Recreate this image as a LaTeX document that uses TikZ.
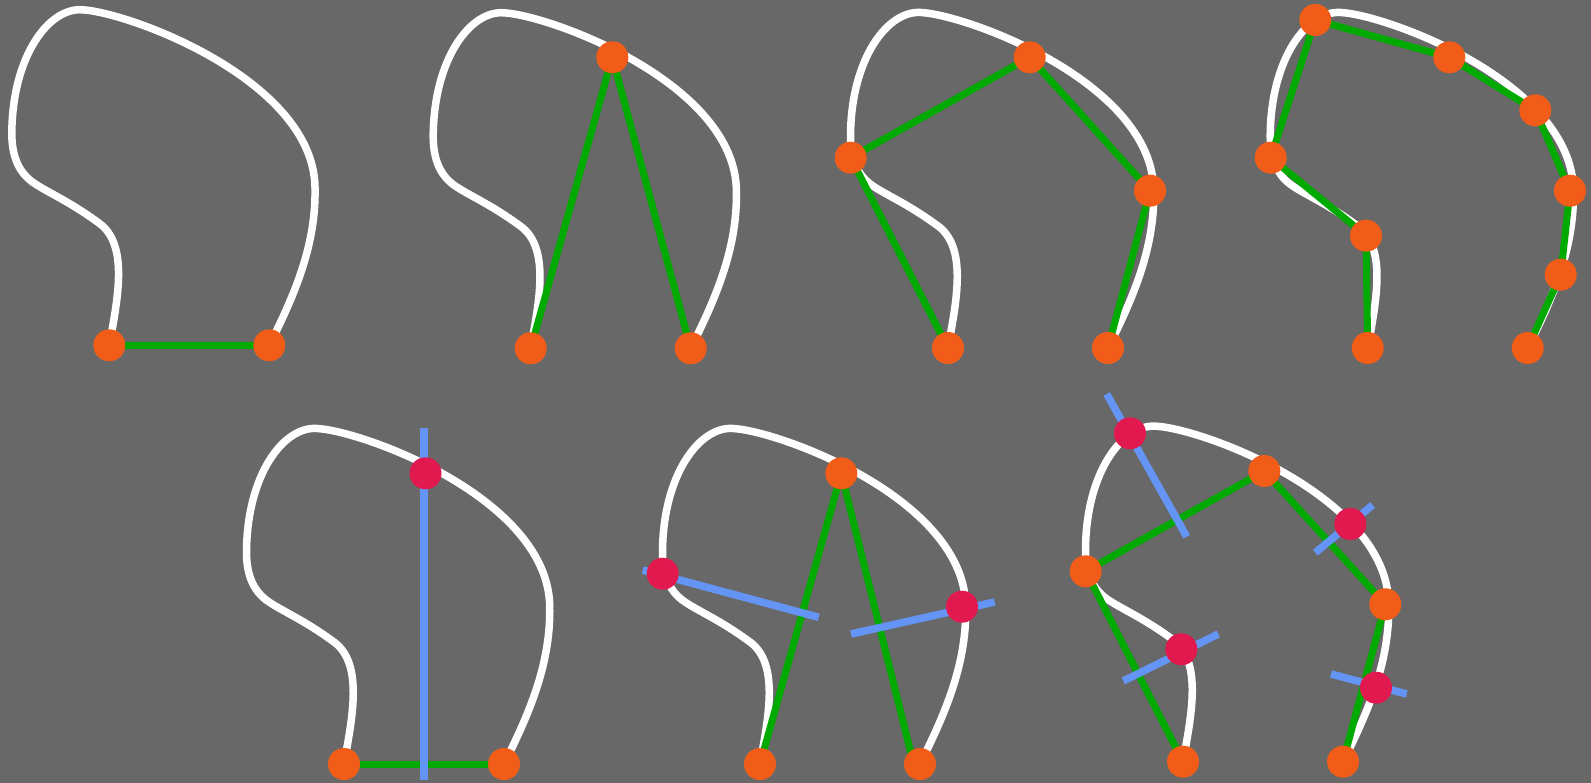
\documentclass[tikz,border=0pt]{standalone}
\definecolor{bg}{RGB}{104,104,104}
\definecolor{dotor}{RGB}{242,92,25}
\definecolor{dotred}{RGB}{226,25,79}
\definecolor{seg}{RGB}{0,170,0}
\definecolor{perp}{RGB}{100,149,245}
\tikzset{
 curve/.style={white, line width=7.5pt},
 chord/.style={seg, line width=7pt},
 bisect/.style={perp, line width=7.5pt},
 odot/.style={circle, fill=dotor, minimum size=32pt, inner sep=0pt},
 rdot/.style={circle, fill=dotred, minimum size=32pt, inner sep=0pt},
}
\newcommand{\shapecurve}{\draw[curve] (0,0) .. controls (8,-45) and (20,-100) .. (-10,-122)
 .. controls (-40,-144) and (-60,-152) .. (-75,-162)
 .. controls (-90,-172) and (-97.5,-188) .. (-97.5,-212)
 .. controls (-97,-290) and (-60,-338) .. (-27,-335.5)
 .. controls (20,-333) and (204,-265) .. (205.7,-158)
 .. controls (207,-100) and (185,-50) .. (160,0);}
\begin{document}
\begin{tikzpicture}[x=1pt,y=-1pt]
\fill[bg] (0,0) rectangle (1591,783);
\useasboundingbox (0,0) rectangle (1591,783);
% panel 1
\begin{scope}[shift={(109.3,345.3)}]
\coordinate (a1) at (0,0); \coordinate (a2) at (160,0);
\shapecurve
\draw[chord] (a1) -- (a2);
\node[odot] (A1) at (a1) {}; \node[odot] (A2) at (a2) {};
\end{scope}
% panel 2
\begin{scope}[shift={(530.7,348.3)}]
\coordinate (b1) at (0,0); \coordinate (b2) at (81.6,-291); \coordinate (b3) at (160,0);
\shapecurve
\draw[chord] (b1) -- (b2) -- (b3);
\node[odot] (B1) at (b1) {}; \node[odot] (B2) at (b2) {}; \node[odot] (B3) at (b3) {};
\end{scope}
% panel 3
\begin{scope}[shift={(948,348)}]
\coordinate (c1) at (0,0); \coordinate (c2) at (-97.3,-190.3); \coordinate (c3) at (81.7,-290.7);
\coordinate (c4) at (202,-157.3); \coordinate (c5) at (160,0);
\shapecurve
\draw[chord] (c1) -- (c2) -- (c3) -- (c4) -- (c5);
\foreach \n in {1,...,5} {\node[odot] (C\n) at (c\n) {};}
\end{scope}
% panel 4
\begin{scope}[shift={(1367.7,348)}]
\coordinate (d1) at (0,0); \coordinate (d2) at (-1.7,-112.3); \coordinate (d3) at (-97,-190.3);
\coordinate (d4) at (-52.4,-328); \coordinate (d5) at (81.6,-290.7); \coordinate (d6) at (167.6,-237.7);
\coordinate (d7) at (202.3,-157.3); \coordinate (d8) at (193,-73.3); \coordinate (d9) at (160,0);
\shapecurve
\draw[chord] (d1) -- (d2) -- (d3) -- (d4) -- (d5) -- (d6) -- (d7) -- (d8) -- (d9);
\foreach \n in {1,...,9} {\node[odot] (D\n) at (d\n) {};}
\end{scope}
% panel 5
\begin{scope}[shift={(344,764)}]
\coordinate (e1) at (0,0); \coordinate (e2) at (160,0); \coordinate (e3) at (81.5,-290.7);
\coordinate (e4) at (80,-335.7); \coordinate (e5) at (80,16);
\shapecurve
\draw[chord] (e1) -- (e2);
\draw[bisect] (e4) -- (e5);
\node[odot] (E1) at (e1) {}; \node[odot] (E2) at (e2) {}; \node[rdot] (E3) at (e3) {};
\end{scope}
% panel 6
\begin{scope}[shift={(760,764)}]
\coordinate (f1) at (0,0); \coordinate (f2) at (81.3,-290.7); \coordinate (f3) at (160,0);
\coordinate (f3g) at (153.3,-1.3);
\coordinate (f4) at (-97.3,-190.3); \coordinate (f5) at (202,-157.3);
\coordinate (f6) at (-117.3,-194); \coordinate (f7) at (58.7,-146.7);
\coordinate (f8) at (234.7,-162); \coordinate (f9) at (91,-130);
\shapecurve
\draw[chord] (f1) -- (f2) -- (f3g);
\draw[bisect] (f6) -- (f7);
\draw[bisect] (f8) -- (f9);
\node[odot] (F1) at (f1) {}; \node[odot] (F2) at (f2) {}; \node[odot] (F3) at (f3) {};
\node[rdot] (F4) at (f4) {}; \node[rdot] (F5) at (f5) {};
\end{scope}
% panel 7
\begin{scope}[shift={(1183,761.7)}]
\coordinate (g1) at (0,0); \coordinate (g2) at (-97.3,-190.4); \coordinate (g3) at (81.3,-290.7);
\coordinate (g4) at (202.3,-157.4); \coordinate (g5) at (160,0);
\coordinate (g6) at (-53,-328.4); \coordinate (g7) at (167.3,-237.7);
\coordinate (g8) at (-1.7,-112.4); \coordinate (g9) at (193,-74);
\coordinate (h1) at (-76.3,-367.7); \coordinate (h2) at (3.7,-225);
\coordinate (h3) at (189.7,-256.7); \coordinate (h4) at (132.3,-209);
\coordinate (h5) at (35.3,-127.7); \coordinate (h6) at (-59.7,-80.7);
\coordinate (h7) at (148,-87.7); \coordinate (h8) at (223.7,-67.7);
\shapecurve
\draw[chord] (g1) -- (g2) -- (g3) -- (g4) -- (g5);
\draw[bisect] (h1) -- (h2);
\draw[bisect] (h3) -- (h4);
\draw[bisect] (h5) -- (h6);
\draw[bisect] (h7) -- (h8);
\foreach \n in {1,...,5} {\node[odot] (G\n) at (g\n) {};}
\foreach \n in {6,...,9} {\node[rdot] (G\n) at (g\n) {};}
\end{scope}
\end{tikzpicture}
\end{document}
